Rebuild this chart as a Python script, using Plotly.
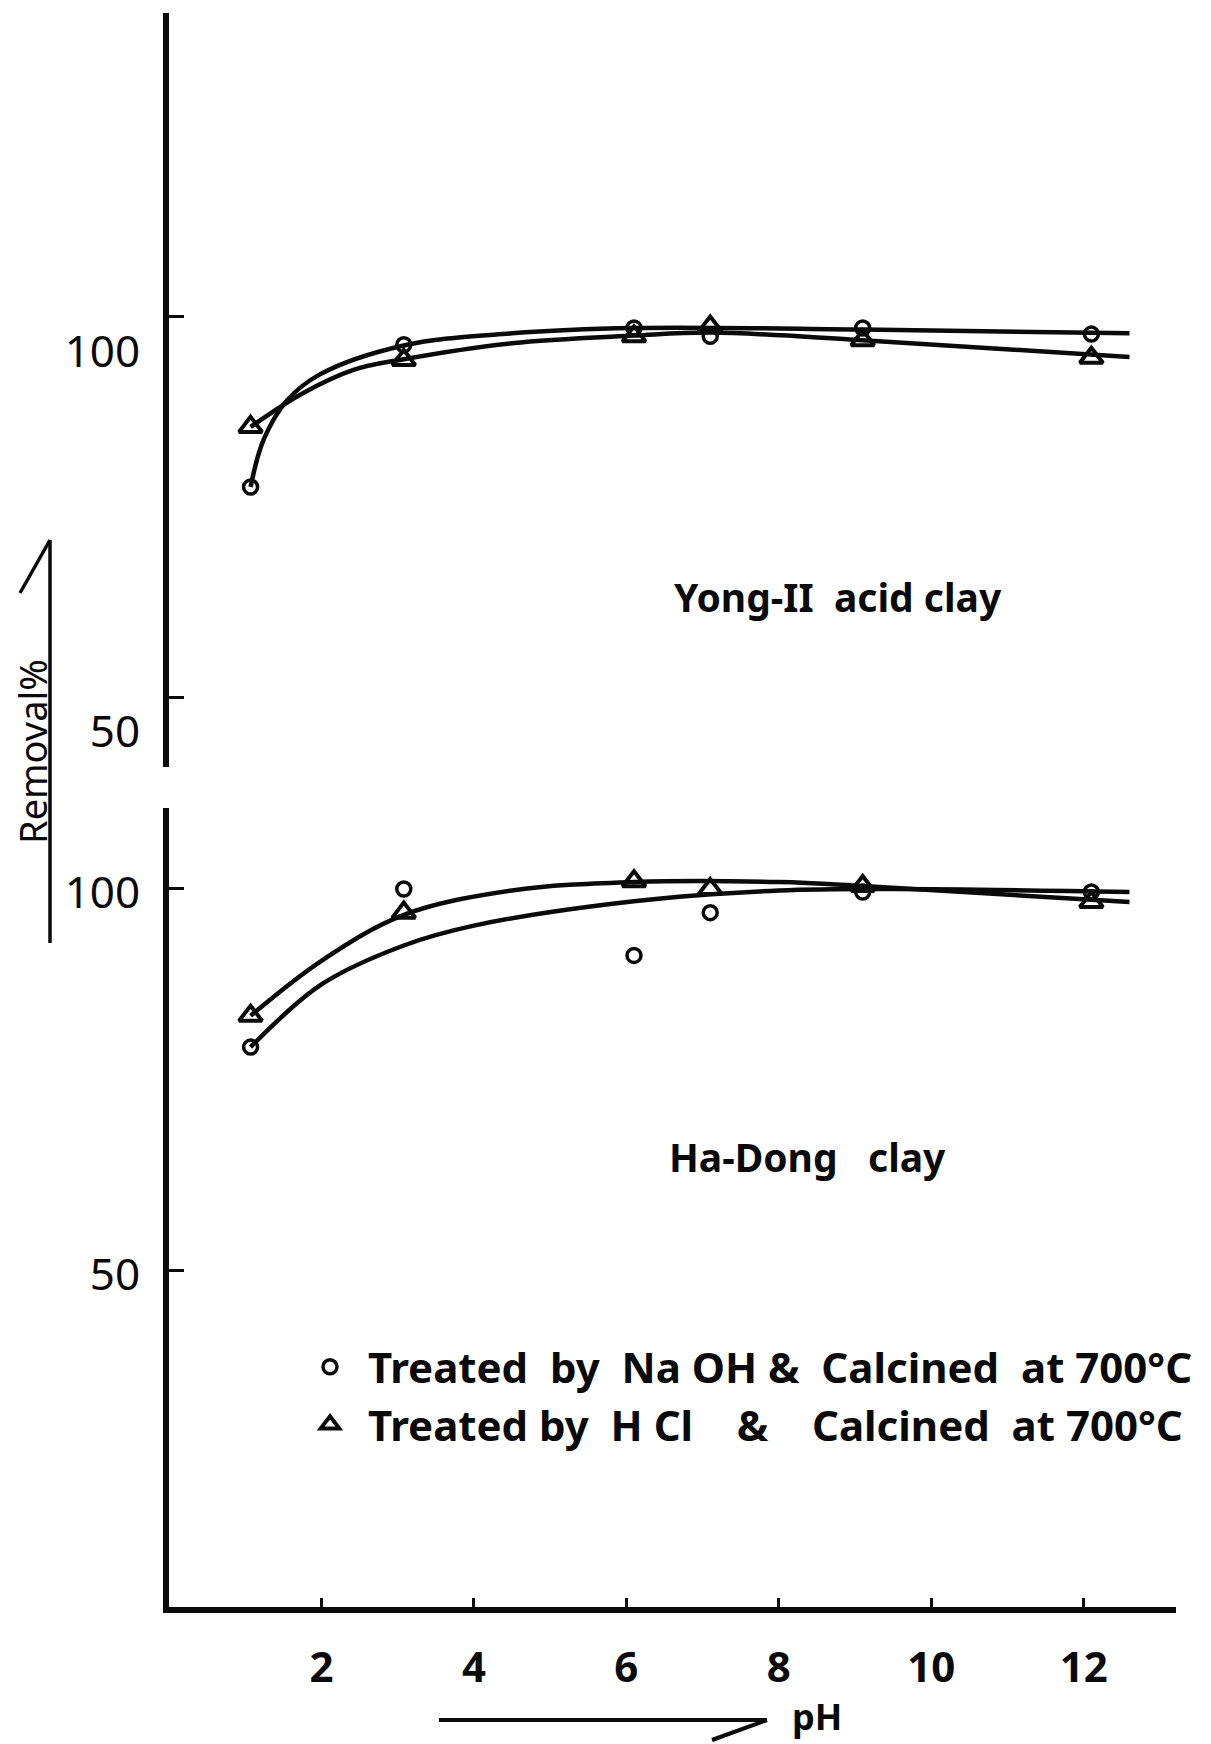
import plotly.graph_objects as go

# ---------------- data ----------------
ph_points = [1.07, 3.08, 6.1, 7.1, 9.1, 12.1]

# Yong-Il acid clay (upper panel)
yong_naoh = [77.6, 96.3, 98.5, 97.4, 98.5, 97.7]
yong_hcl = [85.5, 94.3, 97.4, 98.7, 96.9, 94.6]
# hand-drawn fitted curves (upper panel)
yong_naoh_curve_ph = [1.07, 1.24, 1.55, 1.98, 3.08, 4.5, 6.1, 9.1, 12.6]
yong_naoh_curve = [77.6, 83.8, 89.0, 92.4, 96.2, 97.8, 98.5, 98.3, 97.8]
yong_hcl_curve_ph = [1.07, 1.75, 2.42, 3.08, 4.5, 6.1, 7.1, 9.1, 12.6]
yong_hcl_curve = [85.5, 89.9, 93.0, 94.4, 96.5, 97.5, 97.9, 96.9, 94.7]

# Ha-Dong clay (lower panel)
hadong_naoh = [79.3, 100.0, 91.3, 96.9, 99.6, 99.6]
hadong_hcl = [83.4, 96.9, 101.0, 100.0, 100.4, 98.3]
hadong_naoh_curve_ph = [1.07, 2.0, 3.08, 4.0, 6.1, 8.0, 9.5, 12.6]
hadong_naoh_curve = [79.3, 87.5, 92.6, 95.2, 98.4, 99.8, 100.0, 99.6]
hadong_hcl_curve_ph = [1.07, 2.0, 3.08, 4.5, 6.1, 8.0, 9.1, 12.6]
hadong_hcl_curve = [83.4, 90.6, 96.6, 99.8, 100.9, 100.9, 100.4, 98.3]

x_ticks = [2, 4, 6, 8, 10, 12]
y_ticks = [50, 100]

legend_naoh = "Treated\u00a0 by\u00a0 Na OH &\u00a0 Calcined\u00a0 at 700°C"
legend_hcl = "Treated by\u00a0 H Cl\u00a0\u00a0\u00a0 &\u00a0\u00a0\u00a0 Calcined\u00a0 at 700°C"

# ---------------- figure ----------------
W, H = 1211, 1744
FONT = "Noto Sans"
INK = "#0a0a0a"


def px(x):
    return x / W


def py(y):
    return 1 - y / H


fig = go.Figure()

curve_style = dict(color=INK, width=4.5, shape="spline", smoothing=1.0)
circle_marker = dict(symbol="circle-open", size=14, color=INK, line=dict(width=3.5, color=INK))
tri_marker = dict(symbol="triangle-up-open", size=20, color=INK, line=dict(width=4, color=INK))

# upper panel (xaxis2 / yaxis2)
fig.add_trace(go.Scatter(x=yong_naoh_curve_ph, y=yong_naoh_curve, mode="lines",
                         line=curve_style, showlegend=False, xaxis="x2", yaxis="y2"))
fig.add_trace(go.Scatter(x=yong_hcl_curve_ph, y=yong_hcl_curve, mode="lines",
                         line=curve_style, showlegend=False, xaxis="x2", yaxis="y2"))
fig.add_trace(go.Scatter(x=ph_points, y=yong_naoh, mode="markers", marker=circle_marker,
                         showlegend=False, xaxis="x2", yaxis="y2"))
fig.add_trace(go.Scatter(x=ph_points, y=yong_hcl, mode="markers", marker=tri_marker,
                         showlegend=False, xaxis="x2", yaxis="y2"))

# lower panel (xaxis / yaxis)
fig.add_trace(go.Scatter(x=hadong_naoh_curve_ph, y=hadong_naoh_curve, mode="lines",
                         line=curve_style, showlegend=False))
fig.add_trace(go.Scatter(x=hadong_hcl_curve_ph, y=hadong_hcl_curve, mode="lines",
                         line=curve_style, showlegend=False))
fig.add_trace(go.Scatter(x=ph_points, y=hadong_naoh, mode="markers", marker=circle_marker,
                         name=legend_naoh, legendgroup="a"))
fig.add_trace(go.Scatter(x=ph_points, y=hadong_hcl, mode="markers", marker=tri_marker,
                         name=legend_hcl, legendgroup="b"))

x_dom = [px(169), px(1176)]
x_range = [0, 13.21]

axis_common = dict(showgrid=False, zeroline=False, showline=True, linecolor=INK,
                   linewidth=6, ticks="inside", tickcolor=INK, tickwidth=3,
                   automargin=False)
ytickfont = dict(family=FONT, size=44, color=INK)
xtickfont = dict(family=FONT, size=42, color=INK, weight="bold")

fig.update_layout(
    width=W, height=H,
    margin=dict(l=0, r=0, t=0, b=0),
    paper_bgcolor="white", plot_bgcolor="white",
    font=dict(family=FONT, color=INK),
    xaxis=dict(domain=x_dom, range=x_range, anchor="y", tickvals=x_ticks,
               ticklen=9, ticklabelstandoff=19, tickfont=xtickfont, **axis_common),
    yaxis=dict(domain=[py(1607), py(808)], range=[6.0, 110.6], anchor="x",
               tickvals=y_ticks, ticklen=15, ticklabelstandoff=14,
               ticklabelshift=4, tickfont=ytickfont, **axis_common),
    xaxis2=dict(domain=x_dom, range=x_range, anchor="y2", matches="x", visible=False),
    yaxis2=dict(domain=[py(767), py(13)], range=[40.8, 139.9], anchor="x2",
                tickvals=y_ticks, ticklen=15, ticklabelstandoff=14,
                ticklabelshift=35, tickfont=ytickfont, **axis_common),
    legend=dict(x=px(292), y=py(1333), xanchor="left", yanchor="top",
                font=dict(family=FONT, size=42, color=INK, weight="bold"),
                itemwidth=66, bgcolor="rgba(0,0,0,0)", tracegroupgap=6,
                traceorder="normal"),
    showlegend=True,
)

annotations = [
    dict(text="Yong-II\u00a0 acid clay", x=8.78, y=63.2, xref="x2", yref="y2",
         showarrow=False, font=dict(family=FONT, size=39, color=INK, weight="bold")),
    dict(text="Ha-Dong\u00a0\u00a0 clay", x=8.37, y=65.0, xref="x", yref="y",
         showarrow=False, font=dict(family=FONT, size=39, color=INK, weight="bold")),
    dict(text="Removal%", x=px(32), y=py(752), xref="paper", yref="paper",
         xanchor="center", yanchor="middle",
         textangle=-90, showarrow=False, font=dict(family=FONT, size=38, color=INK)),
    dict(text="pH", x=px(817), y=py(1716), xref="paper", yref="paper",
         xanchor="center", yanchor="middle",
         showarrow=False, font=dict(family=FONT, size=36, color=INK, weight="bold")),
]
fig.update_layout(annotations=annotations)

line_style = dict(color=INK, width=3.5)
shapes = [
    # y-axis title arrow
    dict(type="line", xref="paper", yref="paper", x0=px(50), x1=px(50),
         y0=py(540), y1=py(943), line=line_style),
    dict(type="line", xref="paper", yref="paper", x0=px(50), x1=px(20),
         y0=py(540), y1=py(593), line=line_style),
    # pH arrow
    dict(type="line", xref="paper", yref="paper", x0=px(439), x1=px(767),
         y0=py(1720), y1=py(1720), line=dict(color=INK, width=4)),
    dict(type="line", xref="paper", yref="paper", x0=px(767), x1=px(712),
         y0=py(1720), y1=py(1740), line=dict(color=INK, width=4)),
]
fig.update_layout(shapes=shapes)

fig.write_html("out.html")
